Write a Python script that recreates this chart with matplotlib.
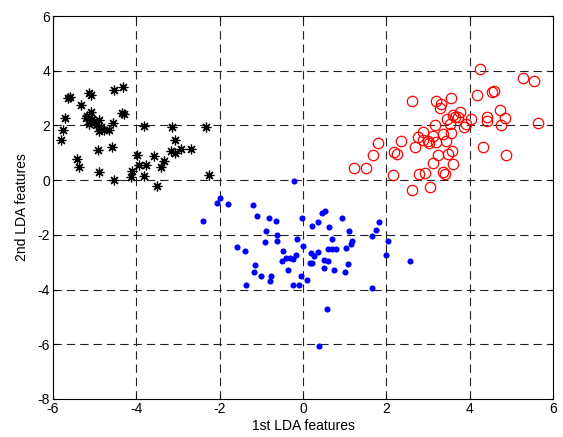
import numpy as np
import matplotlib
matplotlib.use("Agg")
import matplotlib.pyplot as plt

plt.rcParams['font.family'] = ['Liberation Sans', 'DejaVu Sans']
plt.rcParams['axes.unicode_minus'] = False

# 类别 1：黑色星号
black_x = [-5.64, -5.13, -5.10, -4.54, -4.33, -5.33, -5.72, -5.10, -4.34, -4.30,
           -5.21, -5.06, -4.90, -5.14, -4.98, -4.56, -5.75, -4.90, -4.78, -4.66,
           -5.80, -3.82, -3.14, -2.34, -3.08, -4.92, -4.58, -3.98, -3.58, -3.18,
           -3.08, -2.92, -2.70, -5.43, -5.37, -3.94, -3.76, -3.34, -3.40, -4.90,
           -4.10, -4.12, -3.82, -4.54, -3.50, -2.26, -5.60, -5.18, -5.02, -4.86]
black_y = [2.99, 3.19, 3.12, 3.29, 3.39, 2.74, 2.28, 2.50, 2.46, 2.40,
           2.28, 2.25, 2.19, 2.07, 2.01, 2.10, 1.83, 1.79, 1.83, 1.85,
           1.46, 1.97, 1.95, 1.93, 1.46, 1.10, 1.22, 0.91, 0.89, 1.07,
           0.98, 1.13, 1.13, 0.76, 0.49, 0.55, 0.55, 0.71, 0.49, 0.30,
           0.34, 0.10, 0.16, 0.00, -0.22, 0.18, 3.05, 2.35, 2.12, 1.95]

# 类别 2：蓝色实心点
blue_x = [-2.40, -2.06, -2.00, -1.80, -0.21, -1.19, -1.11, -0.82, -0.64, -0.90,
          -0.62, -0.62, -0.92, -1.59, -1.39, -0.03, 0.21, 0.35, 0.46, 0.52,
          0.93, 0.63, 1.10, 1.82, 1.75, 1.65, 2.04, -0.15, -0.01, 0.70,
          1.18, 1.15, 1.04, 0.59, 0.70, 0.79, 0.35, 0.18, 0.26, -0.48,
          -0.18, -0.40, -0.31, -0.23, -0.51, 0.16, 0.22, 0.50, 0.60, 1.07,
          1.98, -1.15, -1.17, -1.01, -0.76, -0.79, -0.35, 0.51, 0.74, 1.01,
          -0.06, 0.10, -1.37, -0.23, -0.09, 1.65, 0.57, 0.38, 2.57]
blue_y = [-1.49, -0.83, -0.67, -0.88, -0.02, -0.91, -1.32, -1.40, -1.49, -1.85,
          -2.02, -2.22, -2.25, -2.46, -2.58, -1.40, -1.69, -1.54, -1.19, -1.12,
          -1.40, -1.73, -1.85, -1.54, -1.82, -2.06, -2.22, -2.14, -2.39, -2.14,
          -2.22, -2.35, -2.47, -2.51, -2.51, -2.51, -2.63, -2.67, -2.78, -2.60,
          -2.72, -2.84, -2.84, -2.88, -2.96, -3.03, -3.03, -2.93, -2.96, -3.05,
          -2.72, -3.12, -3.36, -3.49, -3.49, -3.69, -3.28, -3.21, -3.28, -3.36,
          -3.52, -3.64, -3.85, -3.85, -3.85, -3.94, -4.72, -6.06, -2.96]

# 类别 3：红色空心圆
red_x = [4.25, 5.29, 5.55, 2.61, 3.20, 3.32, 3.29, 3.55, 4.18, 4.54,
         4.58, 4.73, 4.85, 4.41, 4.42, 4.74, 5.63, 3.77, 3.59, 3.65,
         3.71, 3.45, 3.53, 4.02, 3.91, 3.87, 3.16, 2.88, 2.75, 2.87,
         3.13, 3.37, 3.56, 3.01, 3.03, 3.20, 3.44, 2.69, 2.36, 1.80,
         1.68, 1.22, 1.52, 2.19, 2.25, 3.24, 3.47, 3.57, 4.32, 4.88,
         3.11, 3.60, 2.16, 2.79, 2.93, 3.35, 3.41, 2.61, 3.05]
red_y = [4.05, 3.72, 3.63, 2.90, 2.91, 2.77, 2.62, 3.02, 3.11, 3.23,
         3.25, 2.57, 2.26, 2.32, 2.17, 2.02, 2.08, 2.50, 2.38, 2.32,
         2.30, 2.23, 2.07, 2.22, 2.07, 1.95, 2.01, 1.77, 1.58, 1.46,
         1.62, 1.68, 1.71, 1.43, 1.34, 1.40, 1.43, 1.22, 1.43, 1.34,
         0.91, 0.43, 0.45, 1.03, 0.94, 0.91, 0.95, 1.05, 1.20, 0.91,
         0.63, 0.59, 0.18, 0.24, 0.27, 0.30, 0.22, -0.37, -0.24]

x_ticks = [-6, -4, -2, 0, 2, 4, 6]
y_ticks = [-8, -6, -4, -2, 0, 2, 4, 6]

fig = plt.figure(figsize=(5.63, 4.37), dpi=100)
ax = fig.add_axes([53 / 563, 1 - 399 / 437, 500 / 563, 383 / 437])

# 网格：黑色虚线
for xv in x_ticks[1:-1]:
    ax.axvline(xv, color='#222222', lw=0.8, dashes=(7.5, 4.5), zorder=1)
for yv in y_ticks[1:-1]:
    ax.axhline(yv, color='#222222', lw=0.8, dashes=(7.5, 4.5), zorder=1)

ax.plot(black_x, black_y, linestyle='none', marker=(8, 2, 0), markersize=7,
        color='black', markeredgewidth=0.9, zorder=3)
ax.plot(blue_x, blue_y, linestyle='none', marker='o', markersize=4.4,
        color='blue', markeredgewidth=0, zorder=3)
ax.plot(red_x, red_y, linestyle='none', marker='o', markersize=7.5,
        markerfacecolor='none', markeredgecolor='red', markeredgewidth=0.9, zorder=3)

ax.set_xlim(-6, 6)
ax.set_ylim(-8, 6)
ax.set_xticks(x_ticks)
ax.set_yticks(y_ticks)
ax.tick_params(direction='in', top=True, right=True, length=3, labelsize=10, pad=2)
for sp in ax.spines.values():
    sp.set_linewidth(0.8)

ax.set_xlabel('1st LDA features', fontsize=10, labelpad=2)
ax.set_ylabel('2nd LDA features', fontsize=10, labelpad=6)

fig.savefig('out.png', dpi=100)
